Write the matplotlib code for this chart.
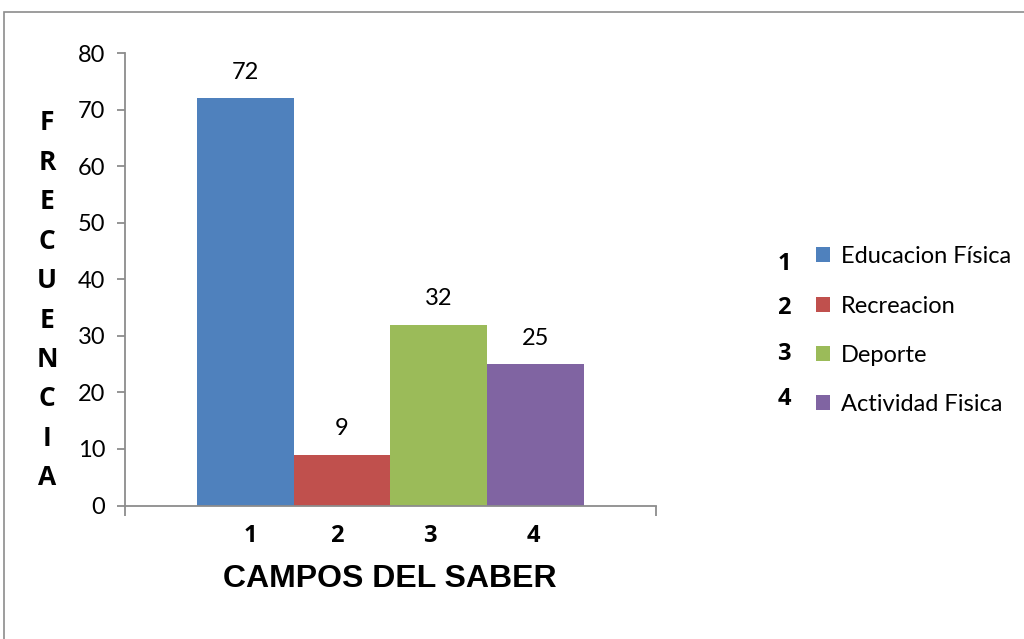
import matplotlib
matplotlib.use("Agg")
import matplotlib.pyplot as plt
from matplotlib.patches import Rectangle

# ---- data ----
categories = ["Educacion Física", "Recreacion", "Deporte", "Actividad Fisica"]
numbers = ["1", "2", "3", "4"]
values = [72, 9, 32, 25]
colors = ["#4F81BD", "#C0504D", "#9BBB59", "#8064A2"]
y_ticks = [0, 10, 20, 30, 40, 50, 60, 70, 80]
ylabel_letters = list("FRECUENCIA")
xlabel = "CAMPOS DEL SABER"

W, H = 1024, 639
fig = plt.figure(figsize=(W / 100, H / 100), dpi=100)

# outer chart border
fig.add_artist(Rectangle((4 / W, -0.05), 1.2, (H - 12) / H + 0.05, transform=fig.transFigure,
                         fill=False, edgecolor="#8c8c8c", linewidth=1.2))

L, R, T, B = 124.5, 655.5, 53, 505.5
ax = fig.add_axes([L / W, (H - B) / H, (R - L) / W, (B - T) / H])

pos = [1, 2, 3, 4]
bars = ax.bar(pos, values, width=1.0, color=colors, edgecolor="none")

xl, xr = -0.249, 5.239
ax.set_xlim(xl, xr)
ax.set_ylim(0, 80)

for s in ["top", "right"]:
    ax.spines[s].set_visible(False)
for s in ["left", "bottom"]:
    ax.spines[s].set_color("#8c8c8c")
    ax.spines[s].set_linewidth(1.3)

ax.set_yticks(y_ticks)
ax.set_yticklabels([str(t) for t in y_ticks], fontsize=17, family="Lato")
ax.tick_params(axis="y", direction="out", length=6, width=1.3, color="#8c8c8c", pad=8)

# x labels (numbers)
label_x = [1.048, 1.947, 2.908, 3.973]
ax.set_xticks(label_x)
ax.set_xticklabels(numbers, fontsize=17, family="Open Sans", fontweight="bold")
ax.tick_params(axis="x", length=0, pad=13.5)
ax.set_xticks([xl, xr], minor=True)
ax.tick_params(axis="x", which="minor", direction="out", length=7, width=1.3, color="#8c8c8c")

# data labels
for b, v in zip(bars, values):
    ax.annotate(str(v), (b.get_x() + b.get_width() / 2, v), xytext=(0, 11),
                textcoords="offset points", ha="center", va="bottom", fontsize=17, family="Lato")

ax.set_xlabel(xlabel, fontsize=23, family="Liberation Sans", fontweight="bold", labelpad=11)

# vertical stacked y label
for i, ch in enumerate(ylabel_letters):
    fig.text(47 / W, 1 - (123 + i * 39.4) / H, ch, ha="center", va="center",
             fontsize=19, family="Open Sans", fontweight="bold")

# legend
leg = fig.legend(bars, categories, loc="upper left", bbox_to_anchor=(795 / W, 1 - 225 / H),
                 frameon=False, prop={"family": "Lato", "size": 17},
                 handlelength=0.6, handleheight=0.6, handletextpad=0.45, labelspacing=1.2)
leg_num_y = [264, 308, 354, 399]
for n, yy in zip(numbers, leg_num_y):
    fig.text(784 / W, 1 - yy / H, n, ha="center", va="center", fontsize=17,
             family="Open Sans", fontweight="bold")

fig.savefig("out.png", dpi=100)
